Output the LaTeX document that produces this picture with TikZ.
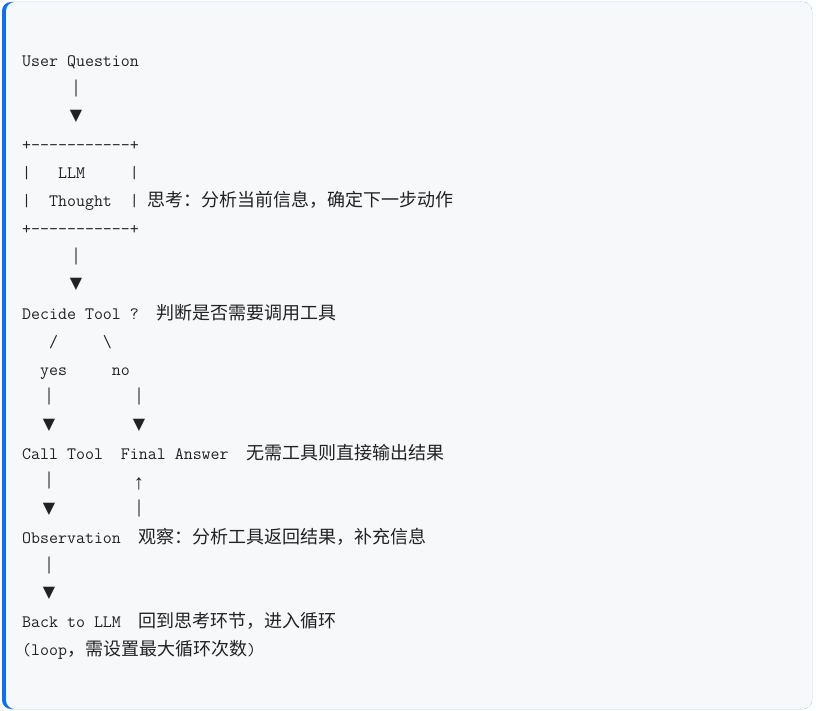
\documentclass[tikz,border=0pt]{standalone}
\usepackage{fontspec}
\newfontfamily\cjk[Scale=1.033]{Noto Sans CJK SC}
\newfontfamily\symb{DejaVu Sans}
\newfontfamily\glyphs{Liberation Mono}
\usetikzlibrary{arrows.meta}

\definecolor{codebg}{HTML}{F6F8FA}
\definecolor{codebar}{HTML}{0D6EFD}
\definecolor{codetext}{HTML}{222222}

\tikzset{
  codeline/.style={anchor=base west, inner sep=0pt, text=codetext, font=\fontsize{17.43}{20}\selectfont\ttfamily},
  barglyph/.style={inner sep=0pt, text=codetext, font=\fontsize{15}{18}\selectfont\glyphs},
  tipglyph/.style={inner sep=0pt, text=codetext, font=\fontsize{16}{18}\selectfont\symb}
}

\begin{document}
\begin{tikzpicture}[x=1pt, y=-1pt]
\useasboundingbox (0,0) rectangle (816,711);
% Code block
\fill[codebar, rounded corners=9pt] (2,2) rectangle (812,709);
\fill[codebg, rounded corners=9pt] (6,2) rectangle (812,709);

% Text lines
\node[codeline] (question) at (22,66.7) {User Question};
\node[codeline] (boxtop) at (22,150.85) {+-----------+};
\node[codeline] (llm) at (22,178.9) {|~~~LLM~~~~~|};
\node[codeline] (thought) at (22,206.95) {|~~Thought~~|~{\cjk 思考：分析当前信息，确定下一步动作}};
\node[codeline] (boxbottom) at (22,235) {+-----------+};
\node[codeline] (decide) at (22,319.15) {Decide~Tool~?~~{\cjk 判断是否需要调用工具}};
\node[codeline] (slashes) at (22,347.2) {~~~/~~~~~\textbackslash};
\node[codeline] (yesno) at (22,375.25) {~~yes~~~~~no};
\node[codeline] (calltool) at (22,459.4) {Call~Tool~~Final~Answer~~{\cjk 无需工具则直接输出结果}};
\node[codeline] (observation) at (22,543.55) {Observation~~{\cjk 观察：分析工具返回结果，补充信息}};
\node[codeline] (backllm) at (22,627.7) {Back~to~LLM~~{\cjk 回到思考环节，进入循环}};
\node[codeline] (loopnote) at (22,655.75) {(loop{\cjk ，需设置最大循环次数})};

% Arrows
\foreach \name/\x/\y in {bara/76/88.25, barb/76/256.5, barc/49/396.8, bard/139/396.8,
    bare/49/480.95, barf/139/509, barg/49/565.1} {
  \node[barglyph] (\name) at (\x,\y) {│};
}
\foreach \name/\x/\y in {tipa/76/116.3, tipb/76/284.6, tipc/49/424.85, tipd/139/424.85,
    tipe/49/509, tipf/49/593.15} {
  \node[tipglyph] (\name) at (\x,\y) {▼};
}
\node[barglyph, font=\fontsize{21}{22}\selectfont\glyphs] (uptip) at (139,483.5) {↑};
\end{tikzpicture}
\end{document}
